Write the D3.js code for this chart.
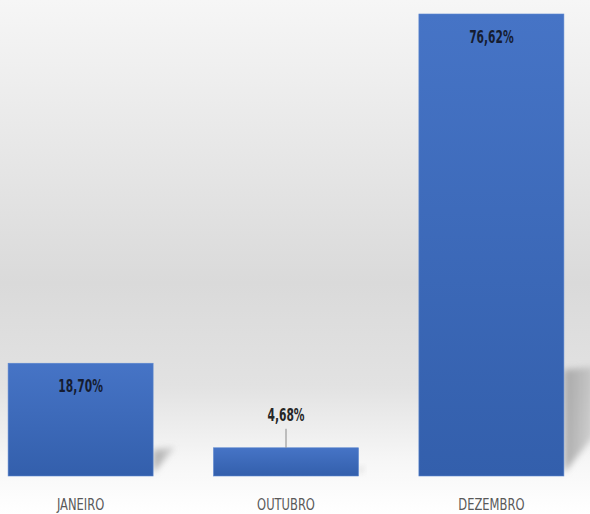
<!DOCTYPE html>
<html>
<head>
<meta charset="utf-8">
<script src="https://cdn.jsdelivr.net/npm/d3@7"></script>
<style>
  html, body { margin: 0; padding: 0; background: #fff; }
  svg { display: block; }
</style>
</head>
<body>
<div id="chart"></div>
<script>
// chart data
const categories = ['JANEIRO', 'OUTUBRO', 'DEZEMBRO'];
const values = [18.70, 4.68, 76.62];
const valueLabels = ['18,70%', '4,68%', '76,62%'];

const width = 590;
const height = 514;
const baseline = 476;
const plotTop = 14;

const svg = d3.select('#chart')
  .append('svg')
  .attr('width', width)
  .attr('height', height);

const defs = svg.append('defs');

// background: light gray vertical gradient fading to white at bottom
const bg = defs.append('linearGradient')
  .attr('id', 'bg')
  .attr('x1', 0).attr('y1', 0).attr('x2', 0).attr('y2', 1);
bg.append('stop').attr('offset', '0%').attr('stop-color', '#f6f6f6');
bg.append('stop').attr('offset', '55%').attr('stop-color', '#dadada');
bg.append('stop').attr('offset', '75%').attr('stop-color', '#e2e2e2');
bg.append('stop').attr('offset', '90%').attr('stop-color', '#f7f7f7');
bg.append('stop').attr('offset', '100%').attr('stop-color', '#ffffff');

// bar fill gradient
const barGrad = defs.append('linearGradient')
  .attr('id', 'barGrad')
  .attr('x1', 0).attr('y1', 0).attr('x2', 0).attr('y2', 1);
barGrad.append('stop').attr('offset', '0%').attr('stop-color', '#4674c6');
barGrad.append('stop').attr('offset', '100%').attr('stop-color', '#335fac');

// shadow fade + blur
const shGrad = defs.append('linearGradient')
  .attr('id', 'shGrad')
  .attr('x1', 0).attr('y1', 0).attr('x2', 1).attr('y2', 0);
shGrad.append('stop').attr('offset', '0%').attr('stop-color', '#9a9a9a').attr('stop-opacity', 0.8);
shGrad.append('stop').attr('offset', '100%').attr('stop-color', '#9a9a9a').attr('stop-opacity', 0.35);

defs.append('filter')
  .attr('id', 'blur')
  .attr('x', '-50%').attr('y', '-50%').attr('width', '200%').attr('height', '200%')
  .append('feGaussianBlur')
  .attr('stdDeviation', 3);

svg.append('rect')
  .attr('width', width)
  .attr('height', height)
  .attr('fill', 'url(#bg)');

// scales
const x = d3.scaleBand()
  .domain(categories)
  .range([4, 568])
  .paddingInner(0.294)
  .paddingOuter(0.02);

const y = d3.scaleLinear()
  .domain([0, d3.max(values)])
  .range([baseline, plotTop]);

const data = categories.map((c, i) => ({ cat: c, value: values[i], label: valueLabels[i] }));

// perspective shadows to the right of each bar
svg.selectAll('.shadow')
  .data(data)
  .enter()
  .append('path')
  .attr('class', 'shadow')
  .attr('filter', 'url(#blur)')
  .attr('fill', 'url(#shGrad)')
  .attr('d', (d) => {
    const r = x(d.cat) + x.bandwidth();
    const h = (y(0) - y(d.value)) * 0.23;
    const w = Math.min(30, h * 0.8);
    const skew = Math.min(40, h * 1.05);
    return `M${r},${y(0) - 3} L${r},${y(0) - h} L${r + w},${y(0) - h - 3} L${r + w},${y(0) - skew} Z`;
  });

// bars
svg.selectAll('.bar')
  .data(data)
  .enter()
  .append('rect')
  .attr('class', 'bar')
  .attr('x', (d) => x(d.cat))
  .attr('y', (d) => y(d.value))
  .attr('width', x.bandwidth())
  .attr('height', (d) => y(0) - y(d.value))
  .attr('fill', 'url(#barGrad)')
  .attr('stroke', '#5b86cf')
  .attr('stroke-width', 0.6);

const fontStack = '"Liberation Sans Narrow", "DejaVu Sans Condensed", "Roboto Condensed", sans-serif';

// value labels: inside the bar when it is tall enough, else above with a leader line
const inside = (d) => y(0) - y(d.value) > 60;

svg.selectAll('.leader')
  .data(data.filter((d) => !inside(d)))
  .enter()
  .append('line')
  .attr('class', 'leader')
  .attr('x1', (d) => x(d.cat) + x.bandwidth() / 2)
  .attr('x2', (d) => x(d.cat) + x.bandwidth() / 2)
  .attr('y1', (d) => y(d.value) - 19)
  .attr('y2', (d) => y(d.value))
  .attr('stroke', '#8a8a8a')
  .attr('stroke-width', 1);

svg.selectAll('.value-label')
  .data(data)
  .enter()
  .append('text')
  .attr('class', 'value-label')
  .attr('transform', (d) => {
    const cx = x(d.cat) + x.bandwidth() / 2;
    const cy = inside(d) ? y(d.value) + 29 : y(d.value) - 27;
    return `translate(${cx},${cy}) scale(0.66,1)`;
  })
  .attr('text-anchor', 'middle')
  .style('font-family', fontStack)
  .style('font-weight', 'bold')
  .style('font-size', '18px')
  .style('fill', (d) => inside(d) ? '#151c30' : '#262626')
  .text((d) => d.label);

// category labels
svg.selectAll('.cat-label')
  .data(data)
  .enter()
  .append('text')
  .attr('class', 'cat-label')
  .attr('transform', (d) => `translate(${x(d.cat) + x.bandwidth() / 2},${baseline + 34}) scale(0.8,1)`)
  .attr('text-anchor', 'middle')
  .style('font-family', fontStack)
  .style('font-size', '16px')
  .style('fill', '#595959')
  .text((d) => d.cat);
</script>
</body>
</html>
